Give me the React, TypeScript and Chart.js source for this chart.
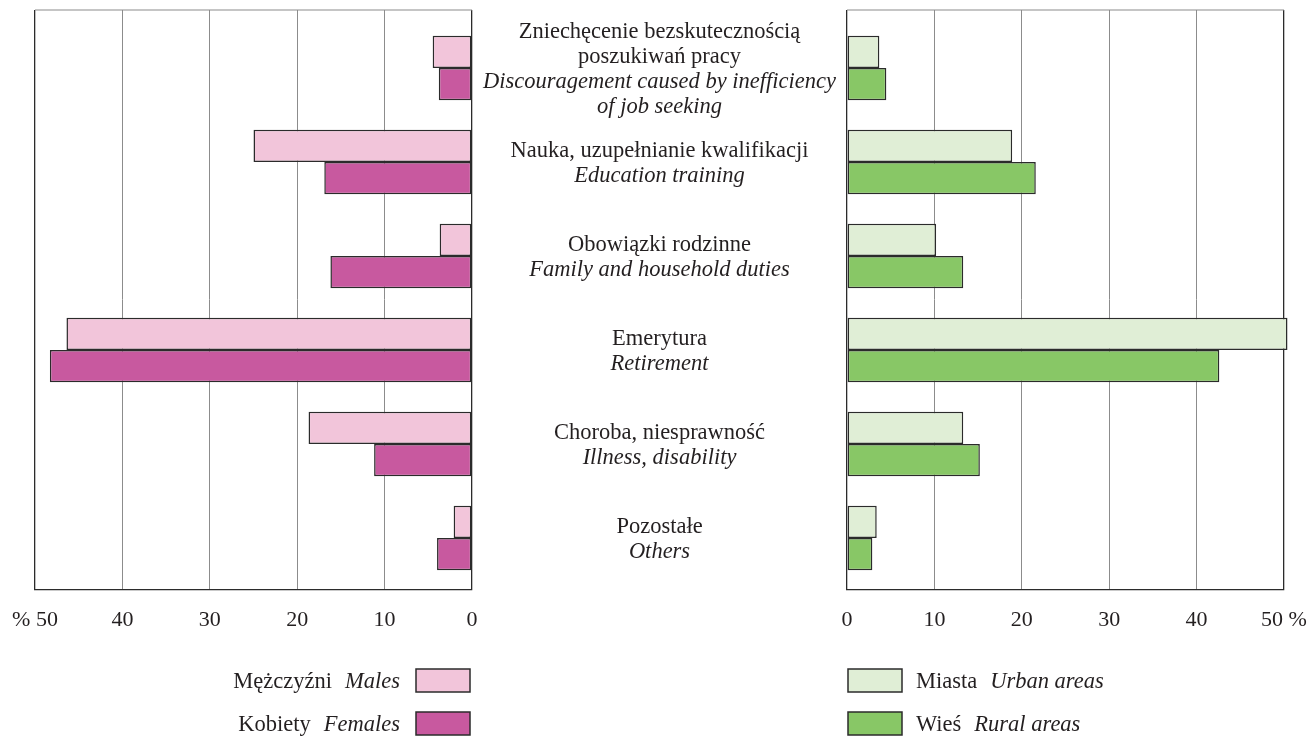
import React, { useEffect, useRef } from 'react';
import { Chart, registerables } from 'chart.js';

Chart.register(...registerables);

// ---- data ----
const labelLinesPl: string[][] = [
  ['Zniechęcenie bezskutecznością', 'poszukiwań pracy'],
  ['Nauka, uzupełnianie kwalifikacji'],
  ['Obowiązki rodzinne'],
  ['Emerytura'],
  ['Choroba, niesprawność'],
  ['Pozostałe'],
];
const labelLinesEn: string[][] = [
  ['Discouragement caused by inefficiency', 'of job seeking'],
  ['Education training'],
  ['Family and household duties'],
  ['Retirement'],
  ['Illness, disability'],
  ['Others'],
];
const males = [4.5, 25.0, 3.7, 46.4, 18.7, 2.1];
const females = [3.8, 16.9, 16.2, 48.3, 11.2, 4.0];
const urban = [3.7, 18.9, 10.2, 50.4, 13.3, 3.4];
const rural = [4.5, 21.6, 13.3, 42.6, 15.2, 2.9];
const tickValues = [0, 10, 20, 30, 40, 50];
const legendLeft = [
  { pl: 'Mężczyźni', en: 'Males' },
  { pl: 'Kobiety', en: 'Females' },
];
const legendRight = [
  { pl: 'Miasta', en: 'Urban areas' },
  { pl: 'Wieś', en: 'Rural areas' },
];

// ---- styles ----
const C_MALE = '#f2c5da';
const C_FEMALE = '#c8599f';
const C_URBAN = '#e0eed6';
const C_RURAL = '#88c766';
const C_BORDER = '#2b2b2b';
const C_GRID = '#8c8c8c';
const C_TEXT = '#231f20';
const FONT = '"Liberation Serif", "Times New Roman", serif';
const FS = 22;
const FS_LABEL = 22.5;
const W = 1310;
const H = 737;
const Y_MIN = -0.617;
const Y_MAX = 5.553;

const toPoints = (arr: number[]) => arr.map((v, i) => ({ x: v, y: i }));

function barDataset(label: string, values: number[], color: string) {
  return {
    label,
    data: toPoints(values),
    backgroundColor: color,
    borderColor: C_BORDER,
    borderWidth: 1.5,
    borderSkipped: false,
    categoryPercentage: 0.688,
    barPercentage: 1.0,
    clip: false,
  };
}

function makeOptions(reverse: boolean, padding: any, lastLabel: string) {
  return {
    responsive: false,
    animation: false,
    indexAxis: 'y',
    layout: { padding },
    plugins: { legend: { display: false }, tooltip: { enabled: false } },
    scales: {
      y: {
        type: 'linear',
        display: false,
        reverse: true,
        offset: false,
        bounds: 'data',
        min: Y_MIN,
        max: Y_MAX,
        afterBuildTicks: (axis: any) => {
          axis.min = Y_MIN;
          axis.max = Y_MAX;
          axis.ticks = labelLinesPl.map((_, i) => ({ value: i }));
        },
      },
      x: {
        type: 'linear',
        min: 0,
        max: 50,
        offset: false,
        bounds: 'data',
        reverse,
        afterBuildTicks: (axis: any) => {
          axis.min = 0;
          axis.max = 50;
          axis.ticks = tickValues.map((v) => ({ value: v }));
        },
        grid: {
          drawTicks: true,
          tickLength: 15,
          tickColor: 'rgba(0,0,0,0)',
          color: (ctx: any) =>
            ctx.tick && (ctx.tick.value === 0 || ctx.tick.value === 50) ? C_BORDER : C_GRID,
          lineWidth: (ctx: any) =>
            ctx.tick && (ctx.tick.value === 0 || ctx.tick.value === 50) ? 1.3 : 1,
        },
        border: { display: true, color: C_BORDER, width: 1.3 },
        ticks: {
          padding: 2,
          color: C_TEXT,
          font: { family: FONT, size: FS },
          maxRotation: 0,
          callback: (v: any) => (v === 50 ? lastLabel : String(v)),
        },
      },
    },
  };
}

const topLine = {
  id: 'topLine',
  afterDraw(chart: any) {
    const { ctx, chartArea } = chart;
    ctx.save();
    ctx.strokeStyle = C_GRID;
    ctx.lineWidth = 1.2;
    ctx.beginPath();
    ctx.moveTo(chartArea.left, chartArea.top);
    ctx.lineTo(chartArea.right, chartArea.top);
    ctx.stroke();
    ctx.restore();
  },
};

function drawLegendBox(ctx: CanvasRenderingContext2D, x: number, y: number, color: string) {
  ctx.fillStyle = color;
  ctx.fillRect(x, y, 54, 23);
  ctx.strokeStyle = C_BORDER;
  ctx.lineWidth = 1.5;
  ctx.strokeRect(x, y, 54, 23);
}

const centerAndLegend = {
  id: 'centerAndLegend',
  afterDraw(chart: any) {
    const ctx: CanvasRenderingContext2D = chart.ctx;
    const yScale = chart.scales.y;
    ctx.save();
    ctx.fillStyle = C_TEXT;
    ctx.textAlign = 'center';
    ctx.textBaseline = 'alphabetic';
    const cx = 659.5;
    const lh = 25;
    labelLinesPl.forEach((pl, i) => {
      const lines = [
        ...pl.map((t) => ({ t, it: false })),
        ...labelLinesEn[i].map((t) => ({ t, it: true })),
      ];
      const cy = yScale.getPixelForValue(i);
      const n = lines.length;
      lines.forEach((l, k) => {
        ctx.font = `${l.it ? 'italic ' : ''}${FS_LABEL}px ${FONT}`;
        ctx.fillText(l.t, cx, cy + (k - (n - 1) / 2) * lh + 7);
      });
    });

    // legends
    const rowsY = [669, 712];
    const gap = 13;
    legendLeft.forEach((item, i) => {
      const boxX = 416;
      drawLegendBox(ctx, boxX, rowsY[i], i === 0 ? C_MALE : C_FEMALE);
      ctx.fillStyle = C_TEXT;
      ctx.textAlign = 'left';
      ctx.font = `italic ${FS_LABEL}px ${FONT}`;
      const wEn = ctx.measureText(item.en).width;
      ctx.font = `${FS_LABEL}px ${FONT}`;
      const wPl = ctx.measureText(item.pl).width;
      const endX = boxX - 16;
      const startX = endX - wEn - gap - wPl;
      const by = rowsY[i] + 18.5;
      ctx.fillText(item.pl, startX, by);
      ctx.font = `italic ${FS_LABEL}px ${FONT}`;
      ctx.fillText(item.en, startX + wPl + gap, by);
    });
    legendRight.forEach((item, i) => {
      const boxX = 848;
      drawLegendBox(ctx, boxX, rowsY[i], i === 0 ? C_URBAN : C_RURAL);
      ctx.fillStyle = C_TEXT;
      ctx.textAlign = 'left';
      ctx.font = `${FS_LABEL}px ${FONT}`;
      const startX = boxX + 54 + 14;
      const wPl = ctx.measureText(item.pl).width;
      const by = rowsY[i] + 18.5;
      ctx.fillText(item.pl, startX, by);
      ctx.font = `italic ${FS_LABEL}px ${FONT}`;
      ctx.fillText(item.en, startX + wPl + gap, by);
    });
    ctx.restore();
  },
};

export default function App() {
  const leftRef = useRef<HTMLCanvasElement | null>(null);
  const rightRef = useRef<HTMLCanvasElement | null>(null);

  useEffect(() => {
    const bottomPad = 101.6;
    const left = new Chart(leftRef.current as HTMLCanvasElement, {
      type: 'bar',
      data: {
        datasets: [
          barDataset('Mężczyźni Males', males, C_MALE),
          barDataset('Kobiety Females', females, C_FEMALE),
        ],
      },
      options: makeOptions(true, { left: 35, right: W - 472, top: 10, bottom: bottomPad }, '% 50') as any,
      plugins: [topLine, centerAndLegend],
    });
    const right = new Chart(rightRef.current as HTMLCanvasElement, {
      type: 'bar',
      data: {
        datasets: [
          barDataset('Miasta Urban areas', urban, C_URBAN),
          barDataset('Wieś Rural areas', rural, C_RURAL),
        ],
      },
      options: makeOptions(false, { left: 847, right: W - 1284, top: 10, bottom: bottomPad }, '50 %') as any,
      plugins: [topLine],
    });
    return () => {
      left.destroy();
      right.destroy();
    };
  }, []);

  return (
    <div style={{ position: 'absolute', left: 0, top: 0, width: W, height: H, background: '#fff' }}>
      <canvas ref={leftRef} width={W} height={H} style={{ position: 'absolute', left: 0, top: 0 }} />
      <canvas ref={rightRef} width={W} height={H} style={{ position: 'absolute', left: 0, top: 0 }} />
    </div>
  );
}
